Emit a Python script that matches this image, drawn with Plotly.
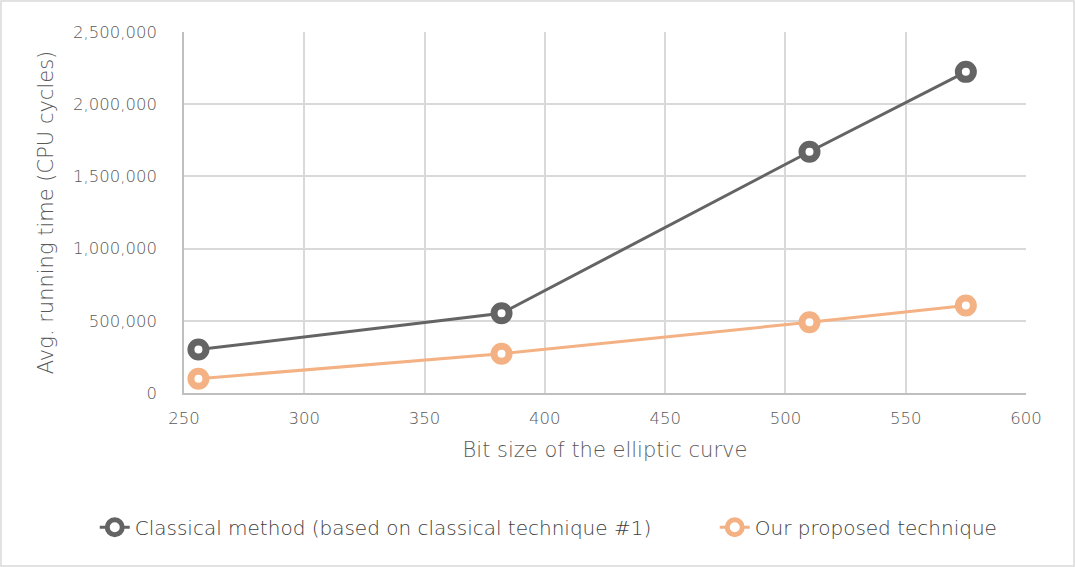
import plotly.graph_objects as go

bit_sizes = [256, 382, 510, 575]
classical = [301000, 552000, 1671000, 2224000]
proposed = [99000, 272000, 490000, 606000]
series_names = ["Classical method (based on classical technique #1)", "Our proposed technique"]
x_ticks = [250, 300, 350, 400, 450, 500, 550, 600]
y_ticks = [0, 500000, 1000000, 1500000, 2000000, 2500000]

FONT = "DejaVu Sans"
W, H = 1075, 567
L, R, T, B = 184, 49, 32, 174

fig = go.Figure()
for name, vals, col, lw in [(series_names[0], classical, "#646464", 575),
                            (series_names[1], proposed, "#F4B183", None)]:
    fig.add_trace(go.Scatter(
        x=bit_sizes, y=vals, name=name, mode="lines+markers",
        line=dict(color=col, width=3),
        marker=dict(symbol="circle", size=15, color="white",
                    line=dict(color=col, width=7)),
        legendwidth=lw,
    ))

pw = W - L - R
ph = H - T - B
fig.add_shape(type="rect", xref="paper", yref="paper",
              x0=-(L - 1) / pw, x1=1 + (R - 1) / pw,
              y0=-(B - 1) / ph, y1=1 + (T - 1) / ph,
              line=dict(color="#D9D9D9", width=1.5), layer="below")

fig.update_layout(
    width=W, height=H,
    margin=dict(l=L, r=R, t=T, b=B, autoexpand=False),
    paper_bgcolor="white", plot_bgcolor="white",
    font=dict(family=FONT, color="#595959", size=16, weight=300),
    showlegend=True,
    legend=dict(orientation="h", x=-0.106, xanchor="left", y=-0.318, yanchor="top",
                font=dict(size=20, color="#404040", weight=300),
                traceorder="normal"),
    xaxis=dict(range=[250, 600], tickvals=x_ticks, showgrid=True,
               gridcolor="#D9D9D9", gridwidth=1.5, zeroline=False,
               showline=True, linecolor="#BFBFBF", linewidth=1.5,
               ticks="", ticklabelstandoff=9,
               tickfont=dict(size=16.5, color="#595959", weight=300),
               title=dict(text="Bit size of the elliptic curve",
                          font=dict(size=21, color="#595959", weight=300), standoff=16)),
    yaxis=dict(range=[0, 2500000], tickvals=y_ticks, tickformat=",",
               showgrid=True, gridcolor="#D9D9D9", gridwidth=1.5, zeroline=False,
               showline=True, linecolor="#BFBFBF", linewidth=1.5,
               ticks="", ticklabelstandoff=22,
               tickfont=dict(size=16.5, color="#595959", weight=300),
               title=dict(text="Avg. running time (CPU cycles)",
                          font=dict(size=21, color="#595959", weight=300), standoff=14)),
)

fig.write_html("out.html", config={"displayModeBar": False},
               post_script="document.body.style.margin='0';")
